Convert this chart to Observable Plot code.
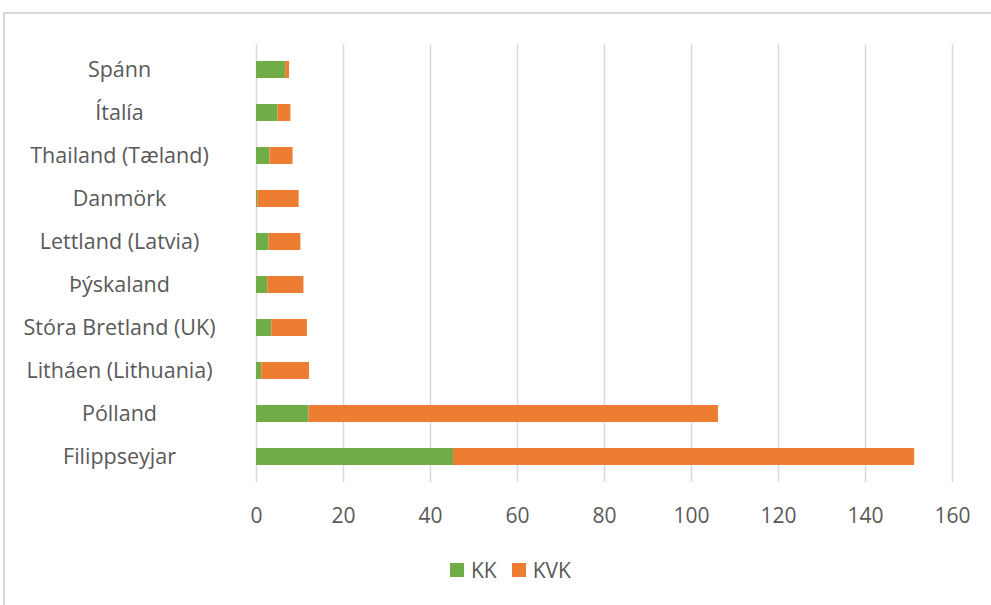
<!DOCTYPE html>
<html>
<head>
<meta charset="utf-8">
<script src="https://cdn.jsdelivr.net/npm/d3@7"></script>
<script src="https://cdn.jsdelivr.net/npm/@observablehq/plot@0.6"></script>
<style>
  html, body { margin: 0; padding: 0; background: #fff; }
  #wrap { position: relative; width: 991px; height: 605px; overflow: hidden; font-family: "Open Sans", sans-serif; }
  #frame { position: absolute; left: 3px; top: 12px; width: 1100px; height: 700px;
           border-left: 2px solid #d9d9d9; border-top: 2px solid #d9d9d9; box-sizing: border-box; }
  #chart { position: absolute; left: 0; top: 0; }
  #legend { position: absolute; top: 557px; left: 450px; display: flex; align-items: center;
            font-size: 21px; color: #595959; line-height: 26px; }
  #legend .sw { display: inline-block; width: 14px; height: 14px; margin-right: 7px; }
  #legend .item { display: flex; align-items: center; margin-right: 15px; }
</style>
</head>
<body>
<div id="wrap">
  <div id="frame"></div>
  <div id="chart"></div>
  <div id="legend"></div>
</div>
<script>
const categories = ["Spánn", "Ítalía", "Thailand (Tæland)", "Danmörk", "Lettland (Latvia)",
  "Þýskaland", "Stóra Bretland (UK)", "Litháen (Lithuania)", "Pólland", "Filippseyjar"];
const kk  = [6.7, 4.9, 3.1, 0.3, 2.9, 2.6, 3.5, 1.2, 12.1, 45.3];
const kvk = [0.9, 3.0, 5.3, 9.5, 7.3, 8.3, 8.2, 11.0, 94.1, 106.0];
const seriesNames = ["KK", "KVK"];
const seriesColors = ["#70AD47", "#ED7D31"];
const xTicks = [0, 20, 40, 60, 80, 100, 120, 140, 160];

const rows = [];
categories.forEach((c, i) => {
  rows.push({country: c, series: "KK", value: kk[i]});
  rows.push({country: c, series: "KVK", value: kvk[i]});
});

const chart = Plot.plot({
  width: 991,
  height: 605,
  marginLeft: 256,
  marginRight: 39,
  marginTop: 44,
  marginBottom: 123,
  style: {fontFamily: "Open Sans, sans-serif", background: "transparent", overflow: "visible"},
  x: {domain: [0, 160], ticks: xTicks},
  y: {domain: categories, paddingInner: 0.6, paddingOuter: 0.3, axis: null},
  color: {domain: seriesNames, range: seriesColors},
  marks: [
    Plot.gridX(xTicks, {stroke: "#d9d9d9", strokeOpacity: 1, strokeWidth: 1.5}),
    Plot.barX(rows, {x: "value", y: "country", fill: "series", order: seriesNames}),
    Plot.axisX({ticks: xTicks, tickSize: 0, tickPadding: 26, fontSize: 21, fill: "#595959", label: null}),
    Plot.text(categories, {y: d => d, frameAnchor: "left", dx: -137, textAnchor: "middle",
      fontSize: 21.5, fill: "#595959"})
  ]
});
document.getElementById("chart").appendChild(chart);

const legend = document.getElementById("legend");
seriesNames.forEach((name, i) => {
  const item = document.createElement("span");
  item.className = "item";
  const sw = document.createElement("span");
  sw.className = "sw";
  sw.style.background = seriesColors[i];
  item.appendChild(sw);
  item.appendChild(document.createTextNode(name));
  legend.appendChild(item);
});
</script>
</body>
</html>
